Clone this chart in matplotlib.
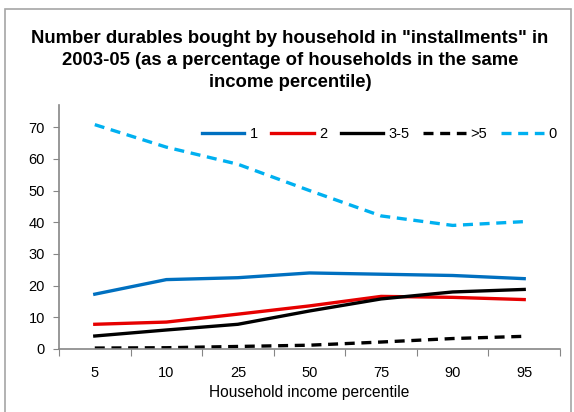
import matplotlib.pyplot as plt
from matplotlib.patches import Rectangle

plt.rcParams['font.family'] = ['Liberation Sans', 'DejaVu Sans']

percentiles = ['5', '10', '25', '50', '75', '90', '95']
one = [17.3, 21.9, 22.5, 24.0, 23.6, 23.2, 22.2]
two = [7.8, 8.5, 11.0, 13.6, 16.6, 16.3, 15.6]
three_five = [4.1, 6.0, 7.8, 12.0, 15.8, 18.0, 18.8]
over_five = [0.3, 0.4, 0.8, 1.2, 2.2, 3.3, 4.0]
zero = [70.8, 63.7, 58.3, 50.0, 42.0, 39.0, 40.2]

fig = plt.figure(figsize=(5.74, 4.12), dpi=100)
ax = fig.add_axes([59/574, 1 - 349/412, (560 - 59)/574, (349 - 105)/412])

# chart border
fig.patches.append(Rectangle((5/574, -0.05), 566/574, 1 - 9/412 + 0.05,
                             transform=fig.transFigure, fill=False,
                             edgecolor='#a6a6a6', linewidth=1.2))

x = range(len(percentiles))
lw = 2.4
ax.plot(x, one, color='#0070C0', lw=lw, label='1')
ax.plot(x, two, color='#E60000', lw=lw, label='2')
ax.plot(x, three_five, color='black', lw=lw, label='3-5')
ax.plot(x, over_five, color='black', lw=lw, ls=(0, (3, 2)), label='>5')
ax.plot(x, zero, color='#00B0F0', lw=lw, ls=(0, (3, 2)), label='0')

ax.set_xlim(-0.5, len(percentiles) - 0.5)
ax.set_ylim(0, 77)
ax.set_yticks(range(0, 80, 10))
ax.set_xticks([i - 0.5 for i in range(len(percentiles) + 1)])
ax.set_xticklabels([])
ax.set_xticks(list(x), minor=True)
ax.set_xticklabels(percentiles, minor=True)
ax.tick_params(axis='x', which='major', length=5, color='#868686', direction='out')
ax.tick_params(axis='x', which='minor', length=0, pad=12, labelsize=10.5)
ax.tick_params(axis='y', length=4, color='#868686', labelsize=10.5, pad=6)

for s in ['top', 'right']:
    ax.spines[s].set_visible(False)
for s in ['left', 'bottom']:
    ax.spines[s].set_color('#868686')
    ax.spines[s].set_linewidth(1.2)

ax.set_xlabel('Household income percentile', fontsize=11.2, labelpad=4)

ax.legend(ncol=5, loc='upper right', bbox_to_anchor=(1.02, 0.965), frameon=False,
          fontsize=10.5, handlelength=2.9, handletextpad=0.35, columnspacing=0.95)

fig.text(0.505, 0.928,
         'Number durables bought by household in "installments" in\n'
         '2003-05 (as a percentage of households in the same\n'
         'income percentile)',
         ha='center', va='top', fontsize=13.3, fontweight='bold', linespacing=1.38)

fig.savefig('out.png', dpi=100)
